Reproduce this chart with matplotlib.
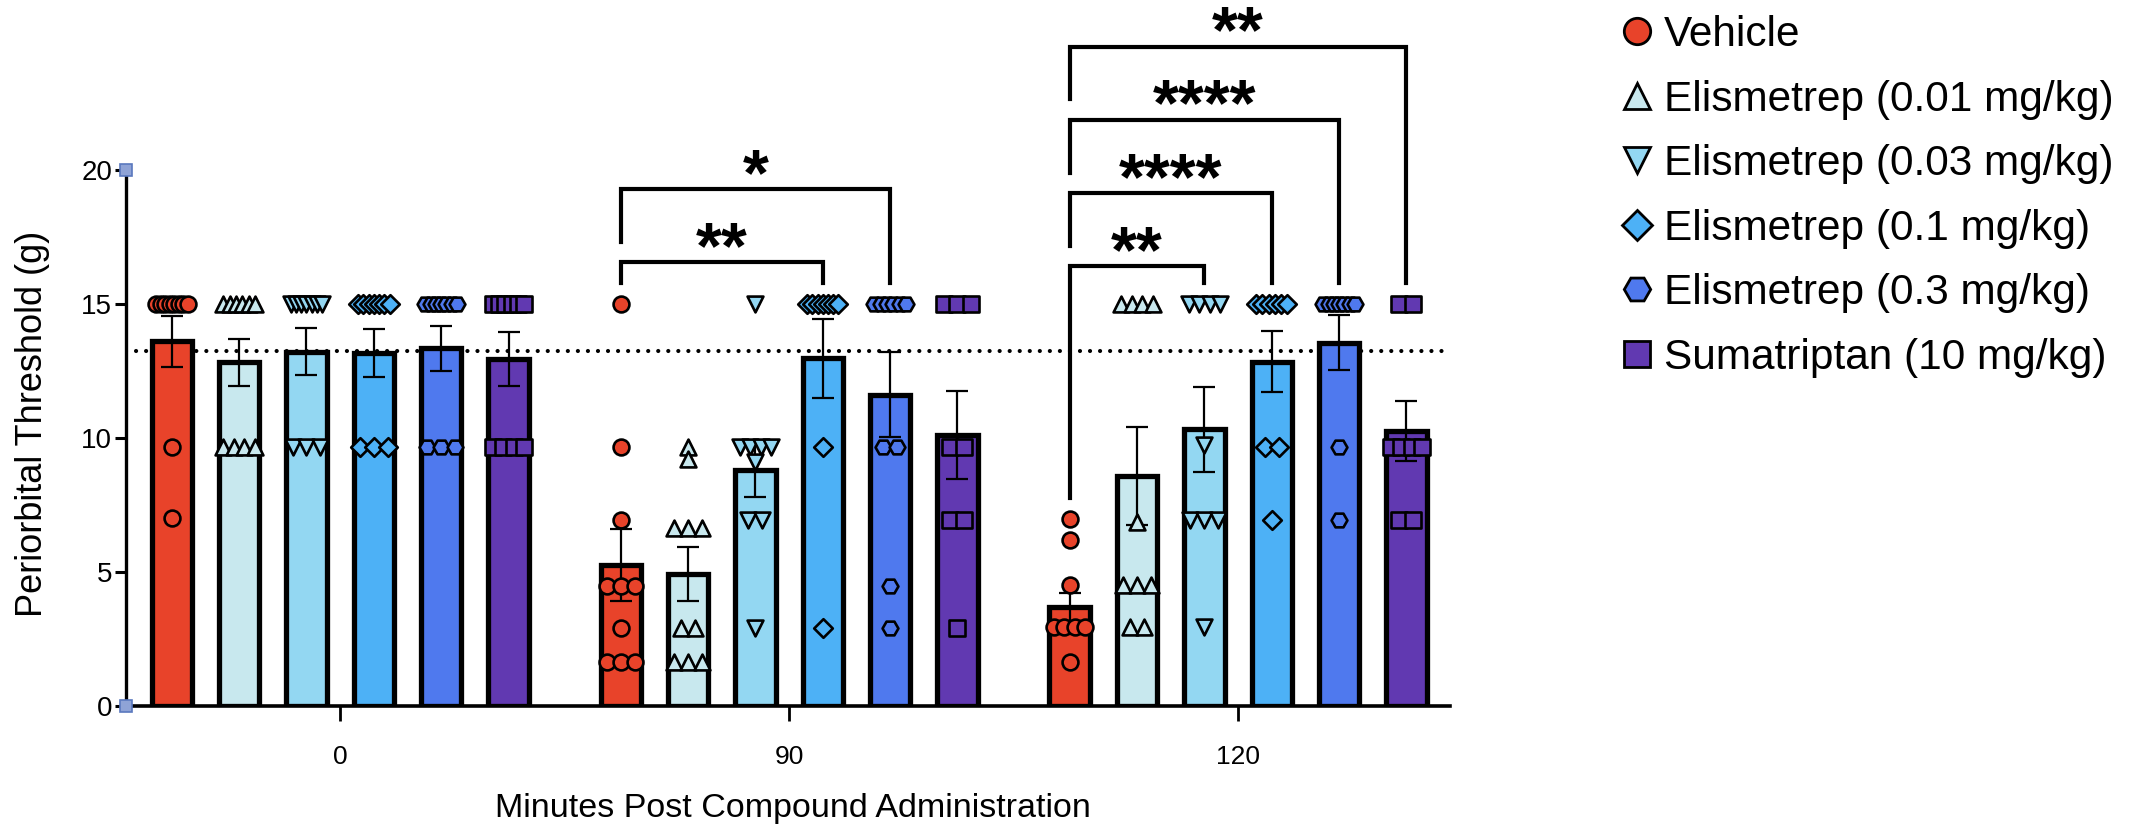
import numpy as np
import matplotlib
matplotlib.use('Agg')
import matplotlib.pyplot as plt
from matplotlib.lines import Line2D

plt.rcParams['font.family'] = ['Liberation Sans', 'DejaVu Sans']

# ---- data ----
treatments = ['Vehicle', 'Elismetrep (0.01 mg/kg)', 'Elismetrep (0.03 mg/kg)',
              'Elismetrep (0.1 mg/kg)', 'Elismetrep (0.3 mg/kg)', 'Sumatriptan (10 mg/kg)']
times = ['0', '90', '120']
colors = ['#E8432A', '#C8E8EE', '#93D7F2', '#4DB1F6', '#4F79EE', '#6139B1']
markers = ['o', '^', 'v', 'D', 'H', 's']

means_0 = [13.6, 12.82, 13.22, 13.18, 13.34, 12.95]
sems_0 = [0.95, 0.88, 0.87, 0.9, 0.85, 1.0]
means_90 = [5.25, 4.93, 8.8, 12.97, 11.62, 10.12]
sems_90 = [1.35, 1.0, 1.0, 1.47, 1.6, 1.64]
means_120 = [3.68, 8.58, 10.32, 12.85, 13.55, 10.26]
sems_120 = [0.52, 1.83, 1.6, 1.13, 1.03, 1.12]

pts_0 = [[15]*8 + [9.68, 7.0],
         [15]*6 + [9.68]*4,
         [15]*7 + [9.68]*3,
         [15]*7 + [9.68]*3,
         [15]*7 + [9.68]*3,
         [15]*6 + [9.68]*4]
pts_90 = [[15, 9.68, 6.94, 4.48, 4.48, 4.48, 2.91, 1.65, 1.65, 1.65],
          [9.68, 9.2, 6.64, 6.64, 6.64, 2.91, 2.91, 1.65, 1.65, 1.65],
          [15, 9.68, 9.68, 9.68, 9.68, 9.1, 6.94, 6.94, 2.91],
          [15]*7 + [9.68, 2.91],
          [15]*6 + [9.68, 9.68, 4.48, 2.91],
          [15]*3 + [9.68]*2 + [6.94]*2 + [2.91]]
pts_120 = [[6.97, 6.19, 4.51, 2.96, 2.96, 2.96, 2.96, 1.64],
           [15]*4 + [6.88] + [4.5]*3 + [2.96]*2,
           [15]*4 + [9.74] + [6.94]*3 + [2.96],
           [15]*6 + [9.68]*2 + [6.94],
           [15]*7 + [9.68] + [6.94],
           [15]*2 + [9.68]*4 + [6.94]*2]

baseline = 13.25
# (time index, treatment index, bracket height, label)
sig_time = [1, 1, 2, 2, 2, 2]
sig_treat = [3, 4, 2, 3, 4, 5]
sig_level = [16.57, 19.28, 16.42, 19.15, 21.88, 24.6]
sig_text = ['**', '*', '**', '****', '****', '**']

means = [means_0, means_90, means_120]
sems = [sems_0, sems_90, sems_120]
pts = [pts_0, pts_90, pts_120]

step = 0.15
bw = 0.09

def spread(vals):
    vals = np.asarray(vals, dtype=float)
    off = np.zeros(len(vals))
    for v in np.unique(vals):
        idx = np.where(vals == v)[0]
        k = len(idx)
        if k > 1:
            w = min(0.031*(k-1), 0.07)
            off[idx] = np.linspace(-w/2, w/2, k)
    return off

fig = plt.figure(figsize=(21.43, 8.25), dpi=100)
ax = fig.add_axes([0.0588, 0.1442, 0.6178, 0.8558])

ax.axhline(baseline, color='black', lw=3, linestyle=(0, (0.01, 2.4)),
           dash_capstyle='round', zorder=1)

for t in range(3):
    for i in range(6):
        x = t + (i - 2.5)*step
        ax.bar(x, means[t][i], width=bw, color=colors[i], edgecolor='black',
               linewidth=3.8, zorder=2)
        ax.errorbar(x, means[t][i], yerr=sems[t][i], fmt='none', ecolor='black',
                    elinewidth=1.6, capsize=8, capthick=1.6, zorder=3)
        v = np.array(pts[t][i])
        ax.scatter(x + spread(v), v, marker=markers[i], s=130 if markers[i] != 'D' else 90,
                   facecolor=colors[i], edgecolor='black', linewidth=1.9, zorder=4,
                   clip_on=False)

# significance brackets
for k in range(len(sig_text)):
    t = sig_time[k]
    j = sig_treat[k]
    lvl = sig_level[k]
    x0 = t + (0 - 2.5)*step
    x1 = t + (j - 2.5)*step
    # left leg stops above the data or above the bracket below
    prev = [sig_level[m] for m in range(len(sig_text)) if sig_time[m] == t and sig_level[m] < lvl]
    if prev:
        yl = max(prev) + 0.75
    else:
        yl = max(pts[t][0]) + 0.8
    yr = max(pts[t][j]) + 0.8
    ax.plot([x0, x0, x1, x1], [yl, lvl, lvl, yr], color='black', lw=3,
            solid_joinstyle='miter', zorder=5, clip_on=False)
    ax.text((x0 + x1)/2, lvl - 0.22, sig_text[k], ha='center', va='baseline',
            fontsize=48, fontweight='bold', zorder=5)

ax.set_xlim(-0.477, 2.472)
ax.set_ylim(0, 26.34)
ax.set_xticks([0, 1, 2])
ax.set_xticklabels(times)
ax.set_yticks([0, 5, 10, 15, 20])
ax.spines['top'].set_visible(False)
ax.spines['right'].set_visible(False)
ax.spines['left'].set_bounds(0, 20)
ax.spines['left'].set_linewidth(2.4)
ax.spines['bottom'].set_linewidth(2.6)
ax.tick_params(axis='y', length=8, width=2.2, labelsize=20, pad=2)
ax.tick_params(axis='x', length=11, width=2, labelsize=19, pad=17)

# small handles at the axis ends
ax.plot([-0.477, -0.477], [0, 20], 's', ms=8, mfc='#8FA3D6', mec='#5A78BE',
        mew=1.2, clip_on=False, zorder=6)

fig.text(33/2143, 1 - 424/825, 'Periorbital Threshold (g)', rotation=90,
         ha='center', va='center', fontsize=26)
fig.text(793/2143, 1 - 809/825, 'Minutes Post Compound Administration',
         ha='center', va='center', fontsize=24.5)

handles = [Line2D([], [], marker=markers[i], linestyle='none', markersize=19 if markers[i] != 'D' else 15,
                  markerfacecolor=colors[i], markeredgecolor='black', markeredgewidth=2)
           for i in range(6)]
fig.legend(handles, treatments, loc='upper left', bbox_to_anchor=(1616/2143, 1 - 15/825),
           frameon=False, fontsize=30.5, labelspacing=0.58, handlelength=1.0,
           handletextpad=0.14, borderpad=0, borderaxespad=0)

fig.savefig('out.png', dpi=100)
